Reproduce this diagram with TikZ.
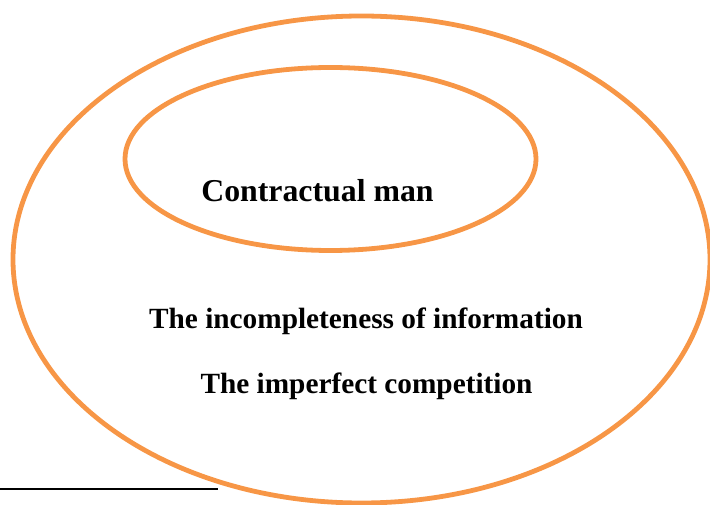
\documentclass[tikz,border=0pt]{standalone}
\usepackage{fontspec}
\setmainfont{Liberation Serif}
\usepackage{xcolor}
\usepackage{tikz}
\definecolor{ringorange}{HTML}{F79646}

\begin{document}
\begin{tikzpicture}[
    x=1pt, y=-1pt,
    ring/.style={
        draw=ringorange,
        line width=4.8pt
    },
    label/.style={
        anchor=base,
        inner sep=0pt,
        font=\bfseries\fontsize{29.3}{34}\selectfont
    },
    rule/.style={line width=2pt}
]
\useasboundingbox (0,0) rectangle (710,505);
\clip (0,0) rectangle (710,505);

\draw[ring] (361.5,259.5) ellipse [x radius=348.5, y radius=243.5];
\draw[ring] (330.5,159) ellipse [x radius=205.5, y radius=91.5];

\node[label, font=\bfseries\fontsize{31.8}{36}\selectfont] (man) at (317.5,201.5) {Contractual man};
\node[label] (info) at (366,329) {The incompleteness of information};
\node[label] (comp) at (366.5,393) {The imperfect competition};

\coordinate (ruleL) at (0,489);
\coordinate (ruleR) at (218,489);
\draw[rule] (ruleL) -- (ruleR);
\end{tikzpicture}
\end{document}
